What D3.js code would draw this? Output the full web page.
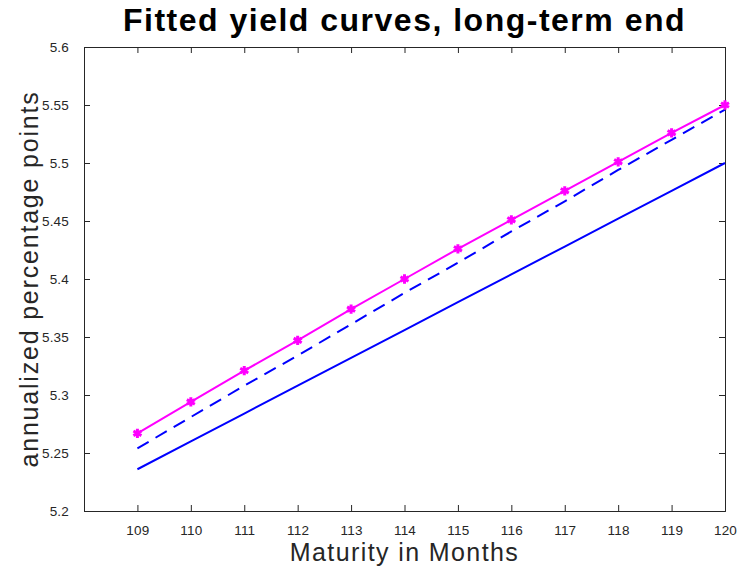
<!DOCTYPE html>
<html>
<head>
<meta charset="utf-8">
<script src="https://cdn.jsdelivr.net/npm/d3@7"></script>
<style>
  body { margin: 0; background: #fff; }
  svg { font-family: "Liberation Sans", Arial, Helvetica, sans-serif; }
</style>
</head>
<body>
<div id="chart"></div>
<script>
// Maturities shown on the x axis (months)
const maturities = [109, 110, 111, 112, 113, 114, 115, 116, 117, 118, 119, 120];

// Fitted curves (annualized percentage points)
const fittedStars = [5.267, 5.294, 5.321, 5.347, 5.374, 5.400, 5.426, 5.451, 5.476, 5.501, 5.526, 5.550];
const fittedDashed = [5.254, 5.281, 5.308, 5.334, 5.361, 5.388, 5.414, 5.441, 5.467, 5.494, 5.520, 5.546];
const fittedSolid = [5.236, 5.260, 5.284, 5.308, 5.332, 5.356, 5.380, 5.404, 5.428, 5.452, 5.476, 5.500];

const yTicks = [5.2, 5.25, 5.3, 5.35, 5.4, 5.45, 5.5, 5.55, 5.6];

const width = 744, height = 572;
const margin = { top: 47, right: 19, bottom: 61, left: 84 };

const svg = d3.select("#chart").append("svg")
  .attr("width", width)
  .attr("height", height);

// Scales
const x = d3.scaleLinear()
  .domain([108, 120])
  .range([margin.left, width - margin.right]);

const y = d3.scaleLinear()
  .domain([5.2, 5.6])
  .range([height - margin.bottom, margin.top]);

const tickLen = 6;
const axisColor = "#262626";

// Bottom axis (ticks pointing inward)
const xAxis = svg.append("g")
  .attr("transform", `translate(0,${height - margin.bottom})`)
  .call(d3.axisBottom(x).tickValues(maturities).tickSize(-tickLen).tickPadding(14).tickFormat(d3.format("d")));

// Top axis mirror ticks
const xTop = svg.append("g")
  .attr("transform", `translate(0,${margin.top})`)
  .call(d3.axisTop(x).tickValues(maturities).tickSize(-tickLen).tickFormat(""));

// Left axis
const yAxis = svg.append("g")
  .attr("transform", `translate(${margin.left},0)`)
  .call(d3.axisLeft(y).tickValues(yTicks).tickSize(-tickLen).tickPadding(15).tickFormat(d => d3.format("")(+d.toFixed(2))));

// Right axis mirror ticks
const yRight = svg.append("g")
  .attr("transform", `translate(${width - margin.right},0)`)
  .call(d3.axisRight(y).tickValues(yTicks).tickSize(-tickLen).tickFormat(""));

[xAxis, xTop, yAxis, yRight].forEach(g => {
  g.select(".domain").attr("stroke", axisColor).attr("stroke-width", 1);
  g.selectAll(".tick line").attr("stroke", axisColor);
  g.selectAll(".tick text")
    .attr("fill", axisColor)
    .style("font-size", "13.5px")
    .style("letter-spacing", "0.2px");
});

// Lines
const line = d3.line()
  .x((d, i) => x(maturities[i]))
  .y(d => y(d));

svg.append("path")
  .datum(fittedSolid)
  .attr("d", line)
  .attr("fill", "none")
  .attr("stroke", "#0000ff")
  .attr("stroke-width", 2);

svg.append("path")
  .datum(fittedDashed)
  .attr("d", line)
  .attr("fill", "none")
  .attr("stroke", "#0000ff")
  .attr("stroke-width", 2)
  .attr("stroke-dasharray", "13,8");

svg.append("path")
  .datum(fittedStars)
  .attr("d", line)
  .attr("fill", "none")
  .attr("stroke", "#ff00ff")
  .attr("stroke-width", 2);

// Asterisk markers
const star = d3.symbol().type(d3.symbolAsterisk).size(60);
svg.selectAll(".marker")
  .data(fittedStars)
  .enter()
  .append("path")
  .attr("class", "marker")
  .attr("transform", (d, i) => `translate(${x(maturities[i])},${y(d)})`)
  .attr("d", star)
  .attr("fill", "none")
  .attr("stroke", "#ff00ff")
  .attr("stroke-width", 3);

// Title
svg.append("text")
  .attr("x", (margin.left + width - margin.right) / 2)
  .attr("y", 31)
  .attr("text-anchor", "middle")
  .style("font-size", "32px")
  .style("font-weight", "bold")
  .style("letter-spacing", "1.5px")
  .attr("fill", "#000")
  .text("Fitted yield curves, long-term end");

// X label
svg.append("text")
  .attr("x", (margin.left + width - margin.right) / 2)
  .attr("y", 561)
  .attr("text-anchor", "middle")
  .style("font-size", "25px")
  .style("letter-spacing", "1.4px")
  .attr("fill", axisColor)
  .text("Maturity in Months");

// Y label
svg.append("text")
  .attr("transform", "rotate(-90)")
  .attr("x", -(margin.top + height - margin.bottom) / 2)
  .attr("y", 38)
  .attr("text-anchor", "middle")
  .style("font-size", "25px")
  .style("letter-spacing", "1.8px")
  .attr("fill", axisColor)
  .text("annualized percentage points");
</script>
</body>
</html>
